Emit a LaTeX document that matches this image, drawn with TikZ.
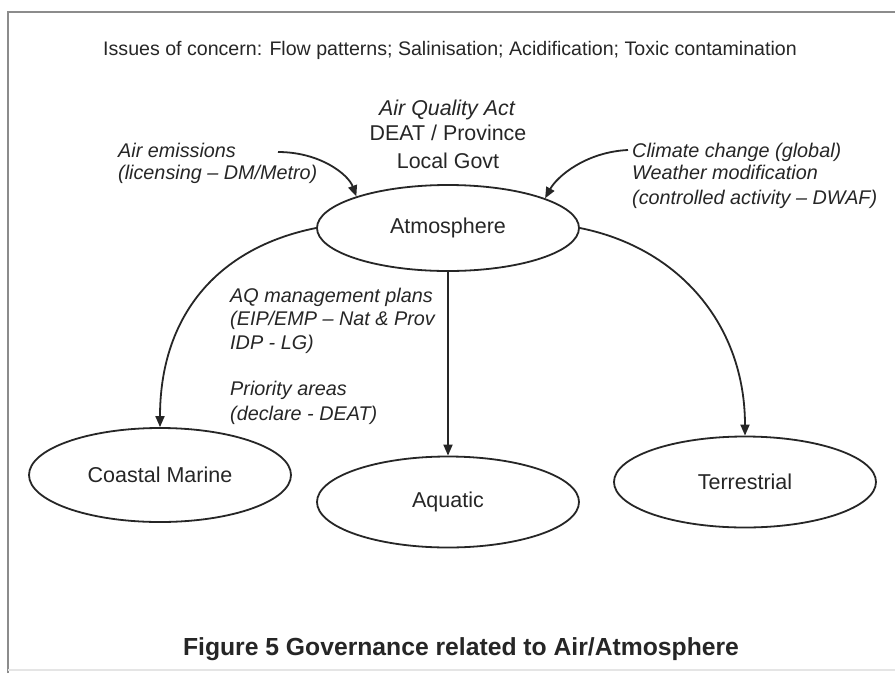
\documentclass[tikz,border=0pt]{standalone}
\usepackage{fontspec}
\setmainfont{Liberation Sans}
\usetikzlibrary{shapes.geometric,arrows.meta}
\begin{document}
\begin{tikzpicture}[x=1pt,y=-1pt,
  side/.style={inner sep=0pt,anchor=base west,text=black!85,font=\fontsize{19.8}{23}\selectfont\itshape},
  head/.style={inner sep=0pt,anchor=base,text=black!85,font=\fontsize{21.4}{25}\selectfont},
  ell/.style={ellipse,draw=black!85,line width=1.8pt,inner sep=0pt,minimum width=262pt,text=black!85,font=\fontsize{21.5}{25}\selectfont},
  arr/.style={draw=black!85,line width=1.8pt,-{Triangle[length=11pt,width=9pt]}},
  frameline/.style={draw=black!45,line width=2.5pt}
]
\useasboundingbox (0,0) rectangle (895,673);
\fill[white] (0,0) rectangle (895,673);
% frame
\draw[frameline] (8,673) -- (8,12) -- (895,12);
\draw[draw=black!10,line width=1.5pt] (8,670) -- (895,670);

% top text
\node[head,font=\fontsize{19.6}{23}\selectfont] (issues) at (450,55) {Issues of concern: Flow patterns; Salinisation; Acidification; Toxic contamination};
\node[head,font=\fontsize{21.4}{25}\selectfont\itshape] (aqa) at (447,115) {Air Quality Act};
\node[head] (deat) at (448,140) {DEAT / Province};
\node[head] (lg) at (448,168) {Local Govt};

% ellipses
\node[ell,minimum height=86pt] (atm) at (448,228) {Atmosphere};
\node[ell,minimum height=94pt] (coastal) at (160,475) {Coastal Marine};
\node[ell,minimum height=91pt] (aquatic) at (448,502) {Aquatic};
\node[ell,minimum height=91pt] (terr) at (745,482) {Terrestrial};

% side labels
\node[side] (ae1) at (118,157) {Air emissions};
\node[side] (ae2) at (118,179) {(licensing -- DM/Metro)};
\node[side] (cc1) at (632,157) {Climate change (global)};
\node[side] (cc2) at (632,179) {Weather modification};
\node[side] (cc3) at (632,204) {(controlled activity -- DWAF)};
\node[side] (aq1) at (230,302) {AQ management plans};
\node[side] (aq2) at (230,325) {(EIP/EMP -- Nat \& Prov};
\node[side] (aq3) at (230,349) {IDP - LG)};
\node[side] (pa1) at (230,395) {Priority areas};
\node[side] (pa2) at (230,420) {(declare - DEAT)};

% caption
\node[head,font=\fontsize{24.7}{28}\selectfont\bfseries] (cap) at (461,655) {Figure 5 Governance related to Air/Atmosphere};

% connectors
\coordinate (aestart) at (278,152);
\coordinate (ccstart) at (628,150);
\draw[arr] (aestart) .. controls +(42,0) and +(-8,-22) .. (atm.161);
\draw[arr] (ccstart) .. controls +(-42,2) and +(12,-22) .. (atm.17);
\draw[arr] (atm.west) .. controls +(-100,20) and +(0,-110) .. (coastal.north);
\draw[arr] (atm.east) .. controls +(100,20) and +(0,-110) .. (terr.north);
\draw[arr] (atm.south) -- (aquatic.north);
\end{tikzpicture}
\end{document}
